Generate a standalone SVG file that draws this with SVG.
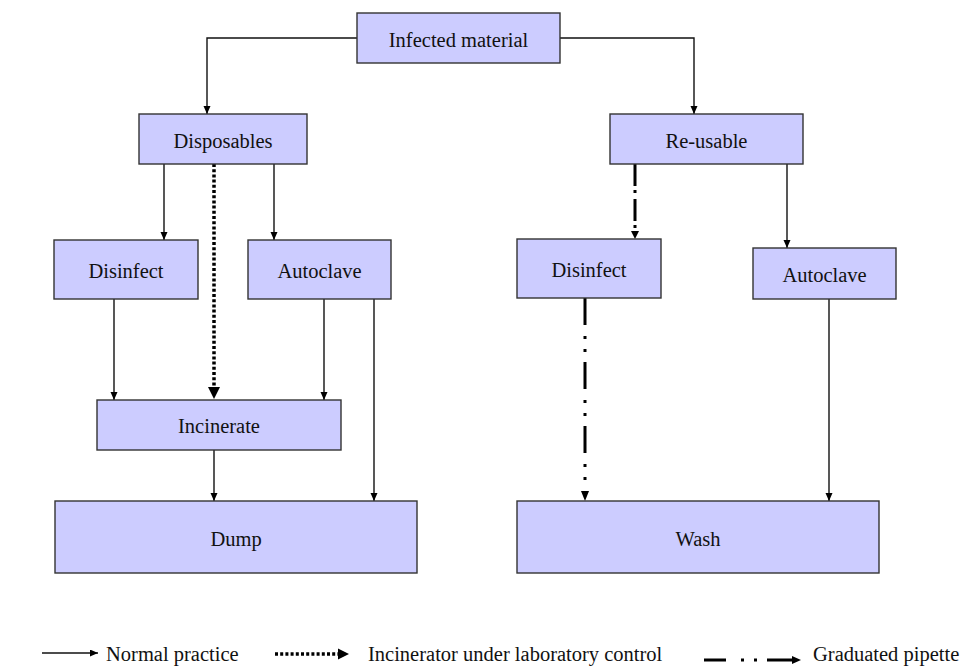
<svg xmlns="http://www.w3.org/2000/svg" width="963" height="667" viewBox="0 0 963 667">
<style>
.box{fill:#CCCCFF;stroke:#333;stroke-width:1.4}
.t{font-family:"Liberation Serif","Times New Roman",serif;font-size:20.5px;fill:#111;text-anchor:middle}
.lt{font-family:"Liberation Serif","Times New Roman",serif;font-size:20.5px;fill:#111}
.n{fill:none;stroke:#111;stroke-width:1.4}
.dot{fill:none;stroke:#000;stroke-width:3.5;stroke-dasharray:3 2.2}
.dd{fill:none;stroke:#000;stroke-width:3}
</style>
<defs>
<marker id="a" markerUnits="userSpaceOnUse" markerWidth="10" markerHeight="10" refX="8" refY="3.5" orient="auto"><path d="M0,0 L8,3.5 L0,7 z" fill="#000"/></marker>
<marker id="b" markerUnits="userSpaceOnUse" markerWidth="14" markerHeight="14" refX="12" refY="6" orient="auto"><path d="M0,0 L12,6 L0,12 z" fill="#000"/></marker>
</defs>
<rect width="963" height="667" fill="#fff"/>
<g id="connectors">
<path class="n" d="M357,38 H207 V114" marker-end="url(#a)"/>
<path class="n" d="M560,38 H694 V114" marker-end="url(#a)"/>
<path class="n" d="M164,164 V240" marker-end="url(#a)"/>
<path class="n" d="M274,164 V240" marker-end="url(#a)"/>
<path class="dot" d="M214,164 V388"/>
<path d="M208,387 L220,387 L214,399 z" fill="#000"/>
<path class="n" d="M114,299 V400" marker-end="url(#a)"/>
<path class="n" d="M324,299 V400" marker-end="url(#a)"/>
<path class="n" d="M374,299 V501" marker-end="url(#a)"/>
<path class="n" d="M214,450 V501" marker-end="url(#a)"/>
<path class="dd" d="M635,164 V231" stroke-dasharray="22 4 3 6"/>
<path d="M631,231 L639,231 L635,239 z" fill="#000"/>
<path class="n" d="M787,164 V248" marker-end="url(#a)"/>
<path class="dd" d="M585,298 V490" stroke-dasharray="27 11 3 10 3 10"/>
<path d="M581,491 L589,491 L585,501 z" fill="#000"/>
<path class="n" d="M829,299 V501" marker-end="url(#a)"/>
</g>
<g id="n-infected"><rect class="box" x="357" y="13" width="203" height="50"/><text class="t" x="458.5" y="47">Infected material</text></g>
<g id="n-disposables"><rect class="box" x="139" y="114" width="168" height="50"/><text class="t" x="223" y="147.5">Disposables</text></g>
<g id="n-reusable"><rect class="box" x="610" y="114" width="193" height="50"/><text class="t" x="706.5" y="147.5">Re-usable</text></g>
<g id="n-disinfect1"><rect class="box" x="54" y="240" width="144" height="59"/><text class="t" x="126" y="277.5">Disinfect</text></g>
<g id="n-autoclave1"><rect class="box" x="248" y="240" width="143" height="59"/><text class="t" x="319.5" y="277.5">Autoclave</text></g>
<g id="n-disinfect2"><rect class="box" x="517" y="239" width="144" height="59"/><text class="t" x="589" y="277">Disinfect</text></g>
<g id="n-autoclave2"><rect class="box" x="753" y="248" width="143" height="51"/><text class="t" x="824.5" y="282">Autoclave</text></g>
<g id="n-incinerate"><rect class="box" x="97" y="400" width="244" height="50"/><text class="t" x="219" y="432.5">Incinerate</text></g>
<g id="n-dump"><rect class="box" x="55" y="501" width="362" height="72"/><text class="t" x="236" y="546">Dump</text></g>
<g id="n-wash"><rect class="box" x="517" y="501" width="362" height="72"/><text class="t" x="698" y="546">Wash</text></g>
<g id="legend">
<path class="n" d="M42,653 H98" marker-end="url(#a)"/>
<text class="lt" x="106" y="660.5">Normal practice</text>
<path class="dot" d="M275,654 H338" stroke-width="3" stroke-dasharray="3 2.5"/>
<path d="M338,648.5 L349,654 L338,659.5 z" fill="#000"/>
<text class="lt" x="368" y="660.5">Incinerator under laboratory control</text>
<path class="dd" d="M704,660 H726 M741,660 H744 M754,660 H757 M767,660 H793"/>
<path d="M792,656 L801,660 L792,664 z" fill="#000"/>
<text class="lt" x="813" y="661">Graduated pipette</text>
</g>
</svg>
